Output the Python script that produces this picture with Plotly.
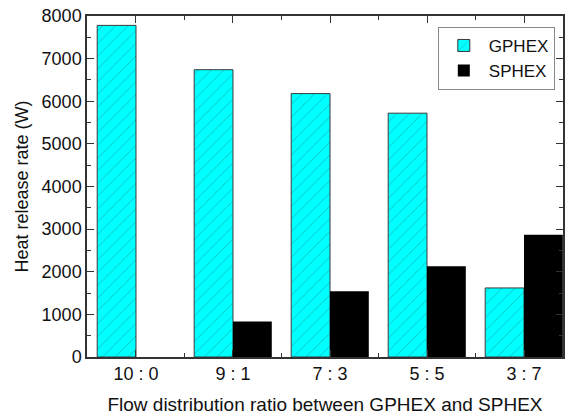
import plotly.graph_objects as go

categories = ["10 : 0", "9 : 1", "7 : 3", "5 : 5", "3 : 7"]
gphex = [7780, 6740, 6180, 5720, 1620]
sphex = [0, 830, 1540, 2130, 2870]
y_ticks = [0, 1000, 2000, 3000, 4000, 5000, 6000, 7000, 8000]

xpos = list(range(len(categories)))
font = "Arial, Liberation Sans, sans-serif"

fig = go.Figure()
fig.add_trace(go.Bar(
    x=xpos, y=gphex, name="GPHEX",
    marker=dict(color="#00ffff", line=dict(color="#3a3a3a", width=1),
                pattern=dict(shape="/", fgcolor="#2a6060", size=9, solidity=0.08)),
))
fig.add_trace(go.Bar(
    x=xpos, y=sphex, name="SPHEX",
    marker=dict(color="#000000", line=dict(color="#000000", width=0)),
))

fig.update_layout(
    width=572, height=417,
    margin=dict(l=87, r=9, t=16, b=60),
    paper_bgcolor="white", plot_bgcolor="white",
    barmode="group", bargap=0.2, bargroupgap=0,
    font=dict(family=font, size=18, color="#111111"),
    legend=dict(x=0.737, y=0.968, xanchor="left", yanchor="top",
                bordercolor="#888888", borderwidth=1, bgcolor="white",
                font=dict(size=17), tracegroupgap=0, itemwidth=40),
    showlegend=True,
)
fig.update_xaxes(
    range=[-0.505, 4.402], automargin=False,
    tickmode="array", tickvals=xpos, ticktext=categories,
    ticks="inside", ticklen=7, tickcolor="#333333",
    minor=dict(tickmode="array", tickvals=[0.5, 1.5, 2.5, 3.5],
               ticks="inside", ticklen=4, tickcolor="#333333"),
    showline=True, linecolor="#333333", linewidth=1.5, mirror="ticks",
    showgrid=False, zeroline=False,
    title=dict(text="Flow distribution ratio between GPHEX and SPHEX",
               font=dict(size=19), standoff=14),
    tickfont=dict(size=18),
)
fig.update_yaxes(
    range=[0, 8000], automargin=False,
    tickmode="array", tickvals=y_ticks,
    ticks="inside", ticklen=7, tickcolor="#333333",
    minor=dict(dtick=500, tick0=0, ticks="inside", ticklen=4, tickcolor="#333333"),
    showline=True, linecolor="#333333", linewidth=1.5, mirror="ticks",
    showgrid=False, zeroline=False,
    title=dict(text="Heat release rate (W)", font=dict(size=18), standoff=8),
    tickfont=dict(size=18),
)

fig.write_html("out.html")
